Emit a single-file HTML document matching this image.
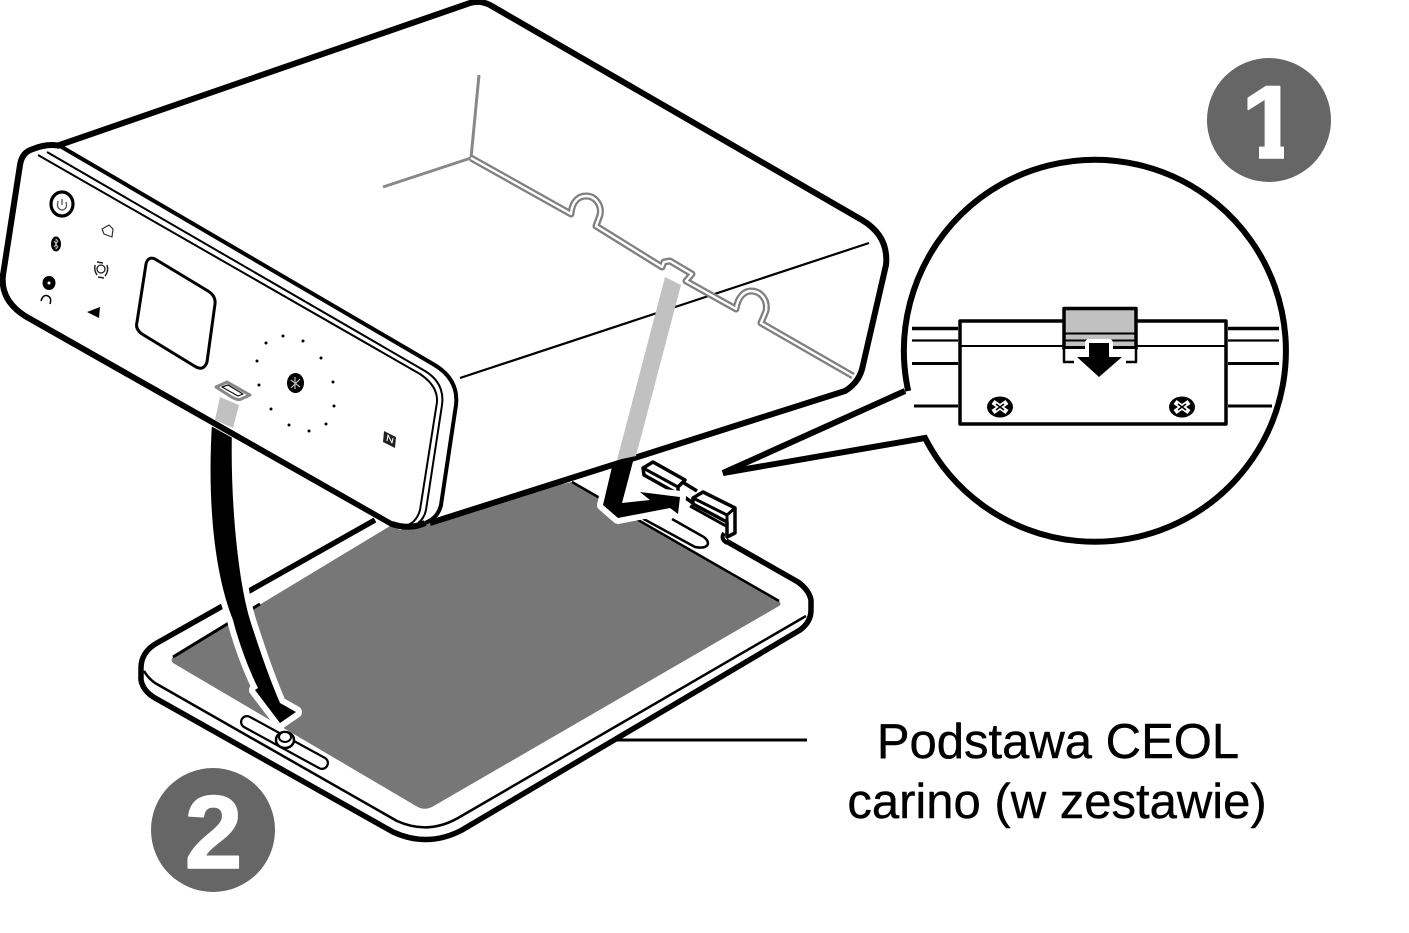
<!DOCTYPE html>
<html><head><meta charset="utf-8"><style>
html,body{margin:0;padding:0;background:#fff}
svg{display:block}
text{font-family:"Liberation Sans",sans-serif}
</style></head><body>
<svg width="1409" height="933" viewBox="0 0 1409 933" xmlns="http://www.w3.org/2000/svg" fill="none" stroke-linejoin="round">
<rect width="1409" height="933" fill="#fff"/>
<!-- base -->
<path d="M375,520 L157,643 Q141,652 141,668 L141,680 Q143,691 155,698 L393,832 Q428,848 462,830 L800,630 Q811,622 811,610 L811,600 Q809,590 798,582 L723,540 L600,470 L400,470Z" fill="#fff"/>
<path d="M375,520 L157,643 Q141,652 141,668 L141,680 Q143,691 155,698 L393,832 Q428,848 462,830 L800,630 Q811,622 811,610 L811,600 Q809,590 798,582 L726,541" stroke="#000" stroke-width="5.500"/>
<path d="M144,671 Q148,678 155,683 L397,821 Q428,835 458,818 L806,616" stroke="#000" stroke-width="2.500"/>
<path d="M572,482 L779,601 Q782,604 779,606 L432,807 Q424,811 416,806 L173,663 Q170,660 173,657 L400,520Z" fill="#777"/>
<path d="M173,657 L260,604" stroke="#000" stroke-width="3"/>
<path d="M572,482 L779,601" stroke="#000" stroke-width="2.500"/>
<path d="M640,517 L695,547 Q706,549 708,544 Q708,539 702,536 L672,519 L640,500Z" fill="#fff"/>
<path d="M640,517 L695,547 Q706,549 708,544 Q708,539 702,536 L672,519" stroke="#000" stroke-width="2.500"/>
<path d="M247,722 L322,763" stroke="#000" stroke-width="14" stroke-linecap="round"/>
<path d="M247,722 L322,763" stroke="#fff" stroke-width="9.500" stroke-linecap="round"/>
<ellipse cx="285" cy="740" rx="9" ry="8" fill="#fff" stroke="#000" stroke-width="2.500"/>
<ellipse cx="285" cy="737" rx="6" ry="5" fill="#fff" stroke="#000" stroke-width="2"/>
<!-- clips -->
<path d="M685,484 L693,490 L703,492 L693,498 L670,490Z" fill="#fff"/>
<path d="M684,483 L697,491" stroke="#000" stroke-width="3.500"/>
<path d="M680,494 L693,503" stroke="#000" stroke-width="3.500"/>
<path d="M643,468 L653,462 L685,480 L678,487 L678,494 L644,475Z" fill="#fff" stroke="#000" stroke-width="3.500"/>
<path d="M643,468 L678,487" stroke="#000" stroke-width="3"/>
<path d="M693,498 L703,492 L735,508 L735,533 L727,537 L727,522 L693,504Z" fill="#fff" stroke="#000" stroke-width="3.500"/>
<path d="M693,498 L727,515 L735,508 M727,515 L727,522" stroke="#000" stroke-width="3"/>
<path d="M690,506 L726,526" stroke="#000" stroke-width="3"/>
<path d="M724,533 Q720,539 727,543" stroke="#000" stroke-width="4"/>
<!-- left arrow -->
<path d="M212,423 C207,505 215,575 233,620 C238,640 248,668 258,688 L255,690 L280,723 L296,712 L280,703 C268,675 258,645 250,620 C238,580 230,500 232,428Z" fill="#000" stroke="#fff" stroke-width="12" paint-order="stroke"/>
<!-- right arrow -->
<path d="M616,450 L636,450 L622,503 L650,500 L640,492 L680,497 L678,514 L670,508 L618,518 L603,505Z" fill="#000" stroke="#fff" stroke-width="12" paint-order="stroke"/>
<!-- device body -->
<path d="M48,149 L470,3 Q480,0 490,5 L862,220 Q889,236 886,265 L863,365 Q860,382 845,391 L430,523 L400,530 L200,420 L10,300Z" fill="#fff"/>
<path d="M48,149 L470,3 Q480,0 490,5 L862,220 Q889,236 886,265 L863,365 Q860,382 845,391 L430,523" stroke="#000" stroke-width="6"/>
<path d="M479,75 L471,158 L383,187" stroke="#888" stroke-width="3"/>
<path d="M869,243 L460,378" stroke="#000" stroke-width="2.200"/>
<path d="M471,158 L571,214 C572,200 580,196 586,196 C596,196 602,206 600,215 L596,226 L662,267 L664,262 L670,261 L692,274 L686,281 L736,309 C738,296 745,291 751,291 C761,291 768,300 766,311 L761,323 L853,376" stroke="#808080" stroke-width="7"/>
<path d="M471,158 L571,214 C572,200 580,196 586,196 C596,196 602,206 600,215 L596,226 L662,267 L664,262 L670,261 L692,274 L686,281 L736,309 C738,296 745,291 751,291 C761,291 768,300 766,311 L761,323 L853,376" stroke="#fff" stroke-width="2.400"/>
<!-- front panel -->
<path d="M60,146 L433,364 Q459,379 456,405 L441,505 Q438,518 425,523 Q410,530 392,524 L25,316 Q0,300 3,275 L20,165 Q22,152 33,149 Q48,143 60,146Z" fill="#fff"/>
<path d="M60,146 L433,364 Q459,379 456,405 L441,505 Q438,518 425,523" stroke="#000" stroke-width="4"/>
<path d="M425,523 Q410,530 392,524 L25,316 Q0,300 3,275 L20,165 Q22,152 33,149 Q48,143 60,146" stroke="#000" stroke-width="6"/>
<path d="M47,152 L425,371 Q445,383 442,405 L426,510 Q424,519 418,523" stroke="#000" stroke-width="2"/>
<path d="M38,155 L420,374 Q438,386 437,402 L420,510 Q416,524 404,526" stroke="#000" stroke-width="2"/>
<path d="M30,314 L393,521" stroke="#fff" stroke-width="1.200"/>
<!-- screen -->
<path d="M155,259 L208,291 Q216,296 215,304 L207,362 Q204,371 196,367 L142,334 Q135,329 137,322 L146,264 Q148,256 155,259Z" fill="#fff" stroke="#000" stroke-width="3"/>
<!-- icons -->
<ellipse cx="62" cy="204" rx="11" ry="12" stroke="#000" stroke-width="3.200" fill="#fff"/>
<path d="M58,201 Q56,209 62,210 Q68,209 66,202 M62,199 L62,205" stroke="#555" stroke-width="1.300"/>
<ellipse cx="56" cy="244" rx="5" ry="7.500" fill="#000"/>
<path d="M54,241 L58,247 L56,249 L56,239 L58,241 L54,247" stroke="#ccc" stroke-width=".8"/>
<path d="M102,229 L109,225 L113,229 L112,237 L104,234Z" stroke="#333" stroke-width="1.200"/>
<circle cx="101" cy="269" r="4" stroke="#222" stroke-width="1.300"/>
<path d="M95,265 Q94,271 97,275 M107,265 Q109,271 105,276 M97,262 L103,263 M98,277 L104,278" stroke="#222" stroke-width="1.500"/>
<ellipse cx="49" cy="283" rx="6.500" ry="7" fill="#000"/>
<circle cx="49" cy="283" r="1.500" fill="#fff"/>
<path d="M41,301 Q43,294 48,296 Q52,298 50,304" stroke="#000" stroke-width="1.500"/>
<path d="M87,312 L100,307 L99,318Z" fill="#000"/>
<g fill="#000">
<circle cx="266" cy="343" r="1.500"/><circle cx="283" cy="336" r="1.500"/><circle cx="303" cy="341" r="1.500"/>
<circle cx="321" cy="358" r="1.500"/><circle cx="333" cy="382" r="1.500"/><circle cx="334" cy="406" r="1.500"/>
<circle cx="326" cy="424" r="1.500"/><circle cx="309" cy="431" r="1.500"/><circle cx="289" cy="425" r="1.500"/>
<circle cx="271" cy="409" r="1.500"/><circle cx="259" cy="385" r="1.500"/><circle cx="257" cy="361" r="1.500"/>
</g>
<ellipse cx="295.500" cy="383" rx="8.500" ry="10" fill="#000"/>
<path d="M291,380 L300,387 M300,379 L291,388 M295,377 L295,389" stroke="#bbb" stroke-width="1.200"/>
<path d="M384,431 L396,437 L395,448 L383,442Z" fill="#222"/>
<path d="M387,441 L388,435 L392,443 L393,438" stroke="#fff" stroke-width="1"/>
<!-- gray bands -->
<path d="M220,397 L239,405 L233,428 L215,420Z" fill="#c1c1c1"/>
<path d="M216,387 L227,382 L250,395 L240,399.500 Q236,400 230,396Z" fill="#fff" stroke="#888" stroke-width="3"/>
<path d="M222,387 L228,385 L243,394 L238,396Z" stroke="#111" stroke-width="1.200"/>
<path d="M665,277 L681,285 L636,456 L617,460Z" fill="#c1c1c1"/>
<!-- callout circle -->
<path d="M908.200,391 A191,191 0 1 1 925,438 L723,473 L905,391" fill="#fff"/>
<path d="M908.200,391 A191,191 0 1 1 925,438 L723,473 L905,391" stroke="#000" stroke-width="6" stroke-linejoin="miter"/>
<g stroke="#000">
<path d="M912,328.500 H958 M1228,328.500 H1279" stroke-width="3.500"/>
<path d="M912,340.500 H958 M1228,340.500 H1279" stroke-width="2.200"/>
<path d="M912,363.500 H958 M1228,363.500 H1279" stroke-width="3"/>
<path d="M914,406 H958 M1228,406 H1272" stroke-width="3"/>
</g>
<rect x="960" y="321" width="266" height="103" fill="#fff" stroke="#000" stroke-width="3.500"/>
<path d="M960,346 H1226" stroke="#000" stroke-width="2"/>
<rect x="1064" y="308.500" width="72" height="40" fill="#c1c1c1" stroke="#000" stroke-width="3.500"/>
<rect x="1064" y="349" width="72" height="12" fill="#fff"/>
<path d="M1064,333.500 H1136" stroke="#000" stroke-width="2"/>
<path d="M1064,340.500 H1136 M1064,347 H1136" stroke="#000" stroke-width="2"/>
<path d="M1064,345 V362 H1074 M1136,345 V362 H1126" stroke="#000" stroke-width="2.500"/>
<path d="M1089,343 H1109 V357 H1122 L1099,377 L1077,357 H1089Z" fill="#000" stroke="#fff" stroke-width="8" paint-order="stroke"/>
<g>
<ellipse cx="1000" cy="407" rx="13" ry="10.500" fill="#000"/>
<ellipse cx="1182" cy="407" rx="13" ry="10.500" fill="#000"/>
<path d="M993,402 L1007,412 M1007,402 L993,412" stroke="#fff" stroke-width="5"/>
<path d="M1175,402 L1189,412 M1189,402 L1175,412" stroke="#fff" stroke-width="5"/>
<path d="M996,404 L1004,410 M1004,404 L996,410" stroke="#000" stroke-width="1.500"/>
<path d="M1178,404 L1186,410 M1186,404 L1178,410" stroke="#000" stroke-width="1.500"/>
</g>
<!-- badges -->
<circle cx="1269" cy="120" r="62" fill="#666"/>
<text x="1270" y="158" font-size="104" font-weight="700" fill="#fff" stroke="#fff" stroke-width="1.500" text-anchor="middle">1</text>
<rect x="1284" y="120" width="20" height="42" fill="#666"/>
<rect x="1236" y="130" width="23" height="32" fill="#666"/>
<circle cx="213" cy="830" r="62" fill="#666"/>
<text x="213.500" y="868" font-size="104" font-weight="700" fill="#fff" stroke="#fff" stroke-width="1.500" text-anchor="middle">2</text>
<!-- label -->
<path d="M617,740 H807" stroke="#000" stroke-width="3"/>
<text x="1058" y="758" font-size="49" fill="#000" stroke="#000" stroke-width=".4" text-anchor="middle">Podstawa CEOL</text>
<text x="1057" y="818" font-size="49" fill="#000" stroke="#000" stroke-width=".4" text-anchor="middle">carino (w zestawie)</text>
</svg>
</body></html>
